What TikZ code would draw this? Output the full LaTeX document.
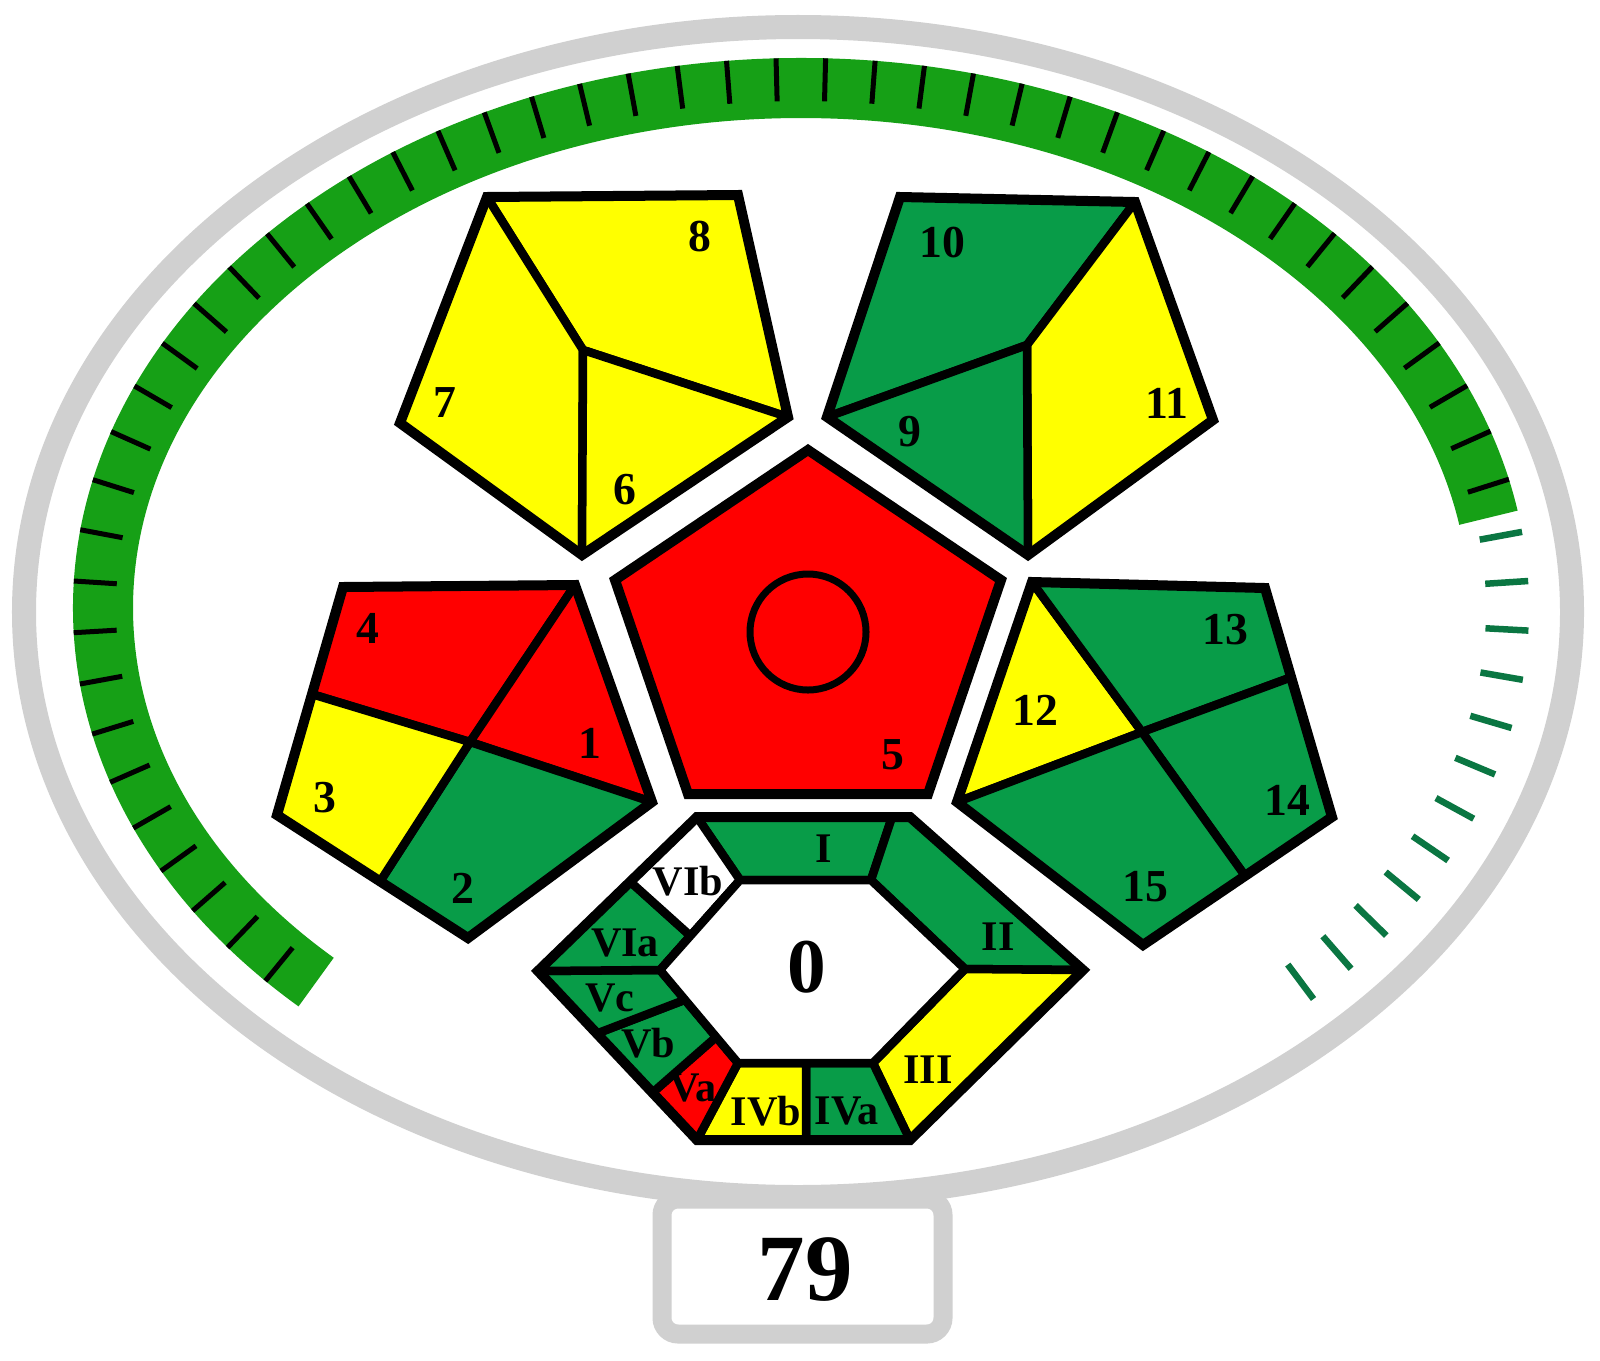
\documentclass[tikz,border=0pt]{standalone}
\usepackage{fontspec}
\setmainfont{Liberation Serif}
\usetikzlibrary{calc,decorations.markings}

\definecolor{segred}{RGB}{255,0,0}
\definecolor{segyellow}{RGB}{255,255,0}
\definecolor{seggreen}{RGB}{8,156,72}
\definecolor{bandgreen}{RGB}{22,160,22}
\definecolor{tickgreen}{RGB}{10,118,66}
\definecolor{ringgray}{RGB}{208,208,208}

\tikzset{
  seg/.style={draw=black, line width=0.085cm, line join=round},
  outline/.style={draw=black, line width=0.1cm, line join=miter},
  num/.style={font=\fontsize{13}{15}\selectfont\bfseries, inner sep=0pt},
  roman/.style={font=\fontsize{12}{14}\selectfont\bfseries, inner sep=0pt},
  scoretext/.style={font=\fontsize{27}{30}\selectfont\bfseries, inner sep=0pt},
  scorebox/.style={draw=ringgray, line width=0.19cm, rounded corners=0.16cm, fill=white},
  ringline/.style={draw=ringgray, line width=0.24cm},
  scaleband/.style={draw=bandgreen, line width=0.6cm},
  blacktick/.style={black, line width=0.05cm},
  greentick/.style={tickgreen, line width=0.065cm},
  filledticks/.style={postaction={decorate}, decoration={markings,
    mark=between positions 0.4cm and 1 step 0.48cm with
    {\draw[blacktick] (0pt,0.3cm) -- (0pt,-0.13cm);}}},
  emptyticks/.style={postaction={decorate}, decoration={markings,
    mark=between positions 0.2cm and 1 step 0.46cm with
    {\draw[greentick] (0pt,0.3cm) -- (0pt,-0.13cm);}}}
}

\begin{document}
\begin{tikzpicture}[x=0.01cm, y=-0.01cm]
  \useasboundingbox (0,0) rectangle (1600,1360);
  \fill[white] (0,0) rectangle (1600,1360);

  % outer ring and score box
  \coordinate (ring) at (798,612);
  \draw[ringline] (ring) ellipse[x radius=774, y radius=585];
  \draw[scorebox] (662,1199) rectangle (943,1334);
  \node[scoretext] (score) at (805,1270) {79};

  % green scale with ticks
  \coordinate (scale) at (801,608);
  \draw[scaleband, filledticks] ($(scale)+(134:698 and 520)$)
    arc[start angle=134, end angle=350, x radius=698, y radius=520];
  \path[emptyticks] ($(scale)+(350:698 and 520)$)
    arc[start angle=350, end angle=406, x radius=698, y radius=520];

  % pentagon 6, 7, 8
  \coordinate (aTL) at (487,197);
  \coordinate (aTR) at (738,195);
  \coordinate (aR) at (788,417);
  \coordinate (aB) at (582,555);
  \coordinate (aL) at (400,423);
  \coordinate (aC) at (583,350);
  \path[seg, fill=segyellow] (aTL) -- (aTR) -- (aR) -- (aC) -- cycle;
  \path[seg, fill=segyellow] (aL) -- (aTL) -- (aC) -- (aB) -- cycle;
  \path[seg, fill=segyellow] (aC) -- (aR) -- (aB) -- cycle;
  \draw[outline] (aTL) -- (aTR) -- (aR) -- (aB) -- (aL) -- cycle;
  \node[num] (n8) at (700,237) {8};
  \node[num] (n7) at (445,403) {7};
  \node[num] (n6) at (625,490) {6};

  % pentagon 9, 10, 11
  \coordinate (bTL) at (900,197);
  \coordinate (bTR) at (1135,202);
  \coordinate (bR) at (1213,420);
  \coordinate (bB) at (1028,555);
  \coordinate (bL) at (827,417);
  \coordinate (bC) at (1027,345);
  \path[seg, fill=seggreen] (bTL) -- (bTR) -- (bC) -- (bL) -- cycle;
  \path[seg, fill=segyellow] (bC) -- (bTR) -- (bR) -- (bB) -- cycle;
  \path[seg, fill=seggreen] (bL) -- (bC) -- (bB) -- cycle;
  \draw[outline] (bTL) -- (bTR) -- (bR) -- (bB) -- (bL) -- cycle;
  \node[num] (n10) at (942,243) {10};
  \node[num] (n11) at (1167,403) {11};
  \node[num] (n9) at (910,432) {9};

  % pentagon 1, 2, 3, 4
  \coordinate (cTL) at (343,587);
  \coordinate (cTR) at (575,585);
  \coordinate (cR) at (652,802);
  \coordinate (cB) at (468,938);
  \coordinate (cL) at (277,815);
  \coordinate (cC) at (470,742);
  \coordinate (cP) at ($(cTL)!0.47!(cL)$);
  \coordinate (cQ) at ($(cL)!0.54!(cB)$);
  \path[seg, fill=segred] (cTL) -- (cTR) -- (cC) -- (cP) -- cycle;
  \path[seg, fill=segred] (cTR) -- (cR) -- (cC) -- cycle;
  \path[seg, fill=seggreen] (cC) -- (cR) -- (cB) -- (cQ) -- cycle;
  \path[seg, fill=segyellow] (cP) -- (cC) -- (cQ) -- (cL) -- cycle;
  \draw[outline] (cTL) -- (cTR) -- (cR) -- (cB) -- (cL) -- cycle;
  \node[num] (n4) at (368,628) {4};
  \node[num] (n1) at (590,743) {1};
  \node[num] (n3) at (325,798) {3};
  \node[num] (n2) at (463,888) {2};

  % pentagon 12, 13, 14, 15
  \coordinate (dTL) at (1032,582);
  \coordinate (dTR) at (1265,588);
  \coordinate (dR) at (1332,817);
  \coordinate (dB) at (1143,945);
  \coordinate (dL) at (957,802);
  \coordinate (dC) at (1142,732);
  \coordinate (dP) at ($(dTR)!0.39!(dR)$);
  \coordinate (dQ) at ($(dR)!0.46!(dB)$);
  \path[seg, fill=segyellow] (dTL) -- (dC) -- (dL) -- cycle;
  \path[seg, fill=seggreen] (dTL) -- (dTR) -- (dP) -- (dC) -- cycle;
  \path[seg, fill=seggreen] (dC) -- (dP) -- (dR) -- (dQ) -- cycle;
  \path[seg, fill=seggreen] (dL) -- (dC) -- (dQ) -- (dB) -- cycle;
  \draw[outline] (dTL) -- (dTR) -- (dR) -- (dB) -- (dL) -- cycle;
  \node[num] (n13) at (1225,630) {13};
  \node[num] (n12) at (1035,710) {12};
  \node[num] (n14) at (1287,800) {14};
  \node[num] (n15) at (1145,887) {15};

  % central pentagon 5
  \coordinate (eT) at (808,450);
  \coordinate (eR) at (1001,580);
  \coordinate (eBR) at (928,794);
  \coordinate (eBL) at (688,794);
  \coordinate (eL) at (615,580);
  \path[outline, fill=segred] (eT) -- (eR) -- (eBR) -- (eBL) -- (eL) -- cycle;
  \draw[black, line width=0.07cm] (808,632) circle[radius=58];
  \node[num] (n5) at (893,755) {5};

  % hexagon
  \coordinate (hxTL) at (697,817);
  \coordinate (hxTR) at (910,817);
  \coordinate (hxR) at (1083,970);
  \coordinate (hxBR) at (910,1140);
  \coordinate (hxBL) at (697,1140);
  \coordinate (hxL) at (538,971);
  \coordinate (hiTL) at (740,880);
  \coordinate (hiTR) at (871,880);
  \coordinate (hiR) at (965,969);
  \coordinate (hiBR) at (873,1063);
  \coordinate (hiBL) at (738,1063);
  \coordinate (hiL) at (660,970);
  \coordinate (hI) at (892,817);
  \coordinate (hIVi) at (806,1063);
  \coordinate (hIVo) at (806,1140);
  \coordinate (hVao) at ($(hxL)!0.72!(hxBL)$);
  \coordinate (hVai) at ($(hiL)!0.72!(hiBL)$);
  \coordinate (hVbo) at ($(hxL)!0.37!(hxBL)$);
  \coordinate (hVbi) at ($(hiL)!0.32!(hiBL)$);
  \coordinate (hVIo) at ($(hxL)!0.58!(hxTL)$);
  \coordinate (hVIi) at ($(hiL)!0.38!(hiTL)$);
  \path[seg, fill=seggreen] (hxTL) -- (hI) -- (hiTR) -- (hiTL) -- cycle;
  \path[seg, fill=seggreen] (hI) -- (hxTR) -- (hxR) -- (hiR) -- (hiTR) -- cycle;
  \path[seg, fill=segyellow] (hiR) -- (hxR) -- (hxBR) -- (hiBR) -- cycle;
  \path[seg, fill=seggreen] (hIVi) -- (hiBR) -- (hxBR) -- (hIVo) -- cycle;
  \path[seg, fill=segyellow] (hiBL) -- (hIVi) -- (hIVo) -- (hxBL) -- cycle;
  \path[seg, fill=segred] (hiBL) -- (hxBL) -- (hVao) -- (hVai) -- cycle;
  \path[seg, fill=seggreen] (hVai) -- (hVao) -- (hVbo) -- (hVbi) -- cycle;
  \path[seg, fill=seggreen] (hVbi) -- (hVbo) -- (hxL) -- (hiL) -- cycle;
  \path[seg, fill=seggreen] (hiL) -- (hxL) -- (hVIo) -- (hVIi) -- cycle;
  \path[seg, fill=white] (hVIi) -- (hVIo) -- (hxTL) -- (hiTL) -- cycle;
  \path[seg, fill=white] (hiTL) -- (hiTR) -- (hiR) -- (hiBR) -- (hiBL) -- (hiL) -- cycle;
  \draw[outline] (hxTL) -- (hxTR) -- (hxR) -- (hxBR) -- (hxBL) -- (hxL) -- cycle;
  \node[roman] (rI) at (824,849) {I};
  \node[roman] (rII) at (998,937) {II};
  \node[roman] (rIII) at (928,1070) {III};
  \node[roman] (rIVa) at (847,1111) {IVa};
  \node[roman] (rIVb) at (766,1111) {IVb};
  \node[roman] (rVa) at (693,1088) {Va};
  \node[roman] (rVb) at (648,1043) {Vb};
  \node[roman] (rVc) at (610,998) {Vc};
  \node[roman] (rVIa) at (625,943) {VIa};
  \node[roman] (rVIb) at (688,881) {VIb};
  \node[font=\fontsize{22}{24}\selectfont\bfseries, inner sep=0pt] (zero) at (807,967) {0};
\end{tikzpicture}
\end{document}
